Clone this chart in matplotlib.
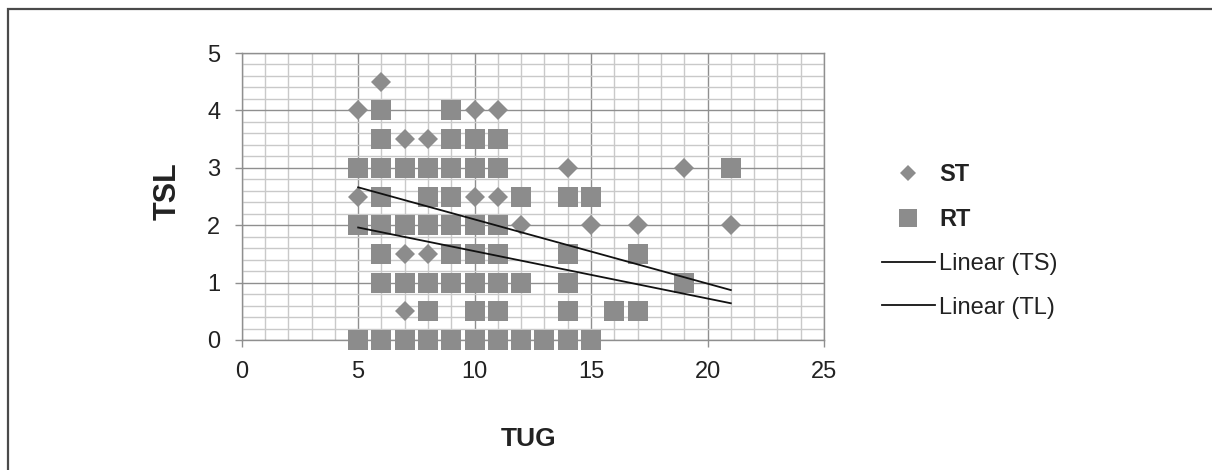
import matplotlib
matplotlib.use("Agg")
import matplotlib.pyplot as plt
from matplotlib.ticker import MultipleLocator
from matplotlib.patches import Rectangle

plt.rcParams['font.family'] = ['Liberation Sans', 'DejaVu Sans']

# ---- data ----
st_x = [6, 5, 10, 11, 7, 8, 14, 19, 5, 10, 11, 12, 15, 17, 21, 7, 8, 7]
st_y = [4.5, 4, 4, 4, 3.5, 3.5, 3, 3, 2.5, 2.5, 2.5, 2, 2, 2, 2, 1.5, 1.5, 0.5]

rt_x = [6, 9,
        6, 9, 10, 11,
        5, 6, 7, 8, 9, 10, 11, 21,
        6, 8, 9, 12, 14, 15,
        5, 6, 7, 8, 9, 10, 11,
        6, 9, 10, 11, 14, 17,
        6, 7, 8, 9, 10, 11, 12, 14, 19,
        8, 10, 11, 14, 16, 17,
        5, 6, 7, 8, 9, 10, 11, 12, 13, 14, 15]
rt_y = [4, 4,
        3.5, 3.5, 3.5, 3.5,
        3, 3, 3, 3, 3, 3, 3, 3,
        2.5, 2.5, 2.5, 2.5, 2.5, 2.5,
        2, 2, 2, 2, 2, 2, 2,
        1.5, 1.5, 1.5, 1.5, 1.5, 1.5,
        1, 1, 1, 1, 1, 1, 1, 1, 1,
        0.5, 0.5, 0.5, 0.5, 0.5, 0.5,
        0, 0, 0, 0, 0, 0, 0, 0, 0, 0, 0]

trend_x = [5, 21]
ts_y = [2.66, 0.87]
tl_y = [1.96, 0.64]

x_ticks = [0, 5, 10, 15, 20, 25]
y_ticks = [0, 1, 2, 3, 4, 5]

# ---- figure ----
W, H = 1212, 470
fig = plt.figure(figsize=(W / 100, H / 100), dpi=100)
fig.patch.set_facecolor('white')

# outer chart border (only top and left visible in the reference)
fig.patches.append(Rectangle((8 / W, -0.2), 1.2, 1.2 - 9 / H,
                             transform=fig.transFigure, fill=False,
                             edgecolor='#4a4a4a', linewidth=1.6, zorder=0))

ax = fig.add_axes([241.7 / W, 1 - 340 / H, (824 - 241.7) / W, (340 - 53) / H])
ax.set_xlim(0, 25)
ax.set_ylim(0, 5)
ax.set_xticks(x_ticks)
ax.set_yticks(y_ticks)
ax.xaxis.set_minor_locator(MultipleLocator(1))
ax.yaxis.set_minor_locator(MultipleLocator(0.2))
ax.grid(which='minor', color='#c9c9c9', linewidth=1.0)
ax.grid(which='major', color='#8f8f8f', linewidth=1.0)
ax.set_axisbelow(True)
for s in ax.spines.values():
    s.set_color('#8f8f8f')
    s.set_linewidth(1.0)
ax.tick_params(which='major', length=7.5 / 1.389, width=1.0, color='#8f8f8f',
               labelsize=17, labelcolor='#222222', pad=10)
ax.tick_params(which='minor', length=0)

marker_col = '#8c8c8c'
ax.plot(st_x, st_y, linestyle='none', marker='D', markersize=9.7,
        markerfacecolor=marker_col, markeredgewidth=0, clip_on=False,
        label='ST', zorder=3)
ax.plot(rt_x, rt_y, linestyle='none', marker='s', markersize=14.4,
        markerfacecolor=marker_col, markeredgewidth=0, clip_on=False,
        label='RT', zorder=3)
ax.plot(trend_x, ts_y, color='#111111', linewidth=1.3, label='Linear (TS)', zorder=4)
ax.plot(trend_x, tl_y, color='#111111', linewidth=1.3, label='Linear (TL)', zorder=4)

fig.text(168 / W, 1 - 191 / H, 'TSL', rotation=90, ha='center', va='center',
         fontsize=22, fontweight='bold', color='#222222')
fig.text(529 / W, 1 - 439 / H, 'TUG', ha='center', va='center',
         fontsize=19, fontweight='bold', color='#222222')

handles, labels = ax.get_legend_handles_labels()
leg = fig.legend(handles, labels, loc='center left',
                 bbox_to_anchor=(881.7 / W, 1 - 241 / H), frameon=False,
                 borderpad=0, borderaxespad=0, fontsize=17,
                 handlelength=2.25, handletextpad=0.18, labelspacing=0.92,
                 markerscale=0.88)
for i, t in enumerate(leg.get_texts()):
    t.set_color('#222222')
    if i < 2:
        t.set_fontweight('bold')
        t.set_fontsize(17)

fig.savefig('out.png', dpi=100, facecolor='white')
